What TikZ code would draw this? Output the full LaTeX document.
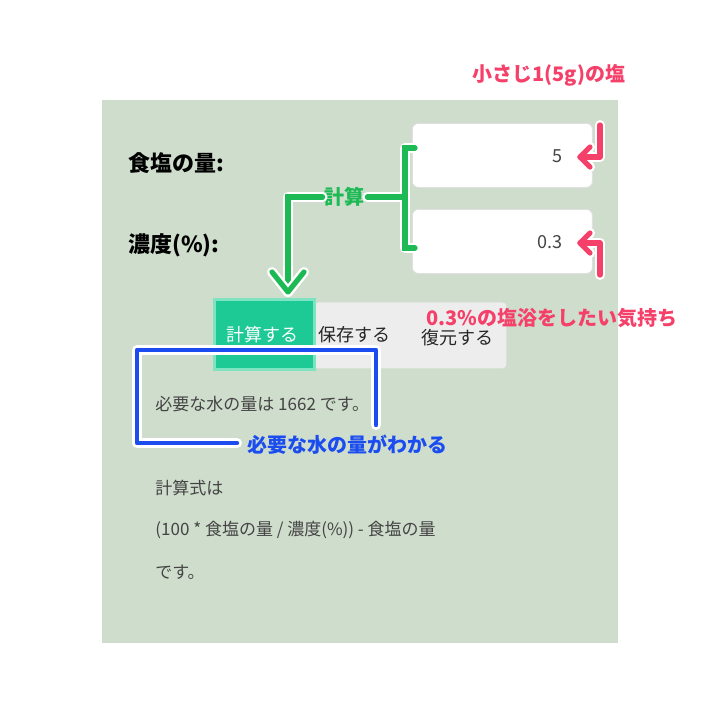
\documentclass[tikz,border=0pt]{standalone}
\usepackage{fontspec}
\setmainfont{Noto Sans CJK JP}
\usetikzlibrary{arrows.meta}
\definecolor{bgc}{HTML}{CFDDCC}
\definecolor{gbtn}{HTML}{1DC995}
\definecolor{gbord}{HTML}{7EE3C0}
\definecolor{ann}{HTML}{1DB954}
\definecolor{pinkc}{HTML}{F5406A}
\definecolor{bluec}{HTML}{1A4CF0}
\definecolor{txt}{HTML}{444444}
\begin{document}
\begin{tikzpicture}[x=0.5pt,y=-0.5pt,
 lbl/.style={font=\fontsize{11}{13}\selectfont\bfseries,text=black,anchor=west,inner sep=0},
 body/.style={font=\fontsize{8.5}{10}\selectfont,text=txt,anchor=west,inner sep=0},
 halo/.style={white,line width=5pt,line cap=round,line join=round},
 gline/.style={ann,line width=2.6pt,line cap=round},
 pline/.style={pinkc,line width=2.6pt,line cap=round},
 bline/.style={bluec,line width=2.2pt,line cap=round},
 annt/.style={font=\fontsize{10}{12}\selectfont\bfseries,inner sep=1pt}]
\useasboundingbox (0,0) rectangle (720,720);
\fill[white] (0,0) rectangle (720,720);
\fill[bgc] (102,100) rectangle (618,643);
\node[lbl] (l1) at (128,163) {食塩の量:};
\node[lbl] (l2) at (128,245) {濃度(\%):};
\node[draw=black!12,fill=white,rounded corners=3pt,minimum width=90pt,minimum height=32pt,anchor=north west,inner sep=0] (in1) at (412,123) {};
\node[draw=black!12,fill=white,rounded corners=3pt,minimum width=90pt,minimum height=32pt,anchor=north west,inner sep=0] (in2) at (412,209) {};
\node[body,anchor=east,font=\fontsize{9}{10}\selectfont] (v1) at (563,156) {5};
\node[body,anchor=east,font=\fontsize{9}{10}\selectfont] (v2) at (563,242) {0.3};
\node[fill=black!7,rounded corners=2pt,minimum width=96pt,minimum height=33pt,anchor=north west,inner sep=0] (gray) at (314,302) {};
\node[fill=gbtn,draw=gbord,line width=1.5pt,minimum width=50pt,minimum height=35pt,anchor=north west,inner sep=0] (b1) at (213,298) {};
\node[font=\fontsize{9}{10}\selectfont,text=white] (t1) at (263,335) {計算する};
\node[font=\fontsize{9}{10}\selectfont,text=black!85] (t2) at (355,335) {保存する};
\node[font=\fontsize{9}{10}\selectfont,text=black!85] (t3) at (458,338) {復元する};
\node[body] (r1) at (155,404) {必要な水の量は 1662 です。};
\node[body] (r2) at (155,488) {計算式は};
\node[body] (r3) at (155,530) {(100 * 食塩の量 / 濃度(\%)) - 食塩の量};
\node[body] (r4) at (155,572) {です。};
% green annotation
\node[annt,text=ann] (calc) at (345,197) {計算};
\coordinate (gt) at (415,148); \coordinate (gb) at (415,248);
\coordinate (gm) at (405,197); \coordinate (gc) at (288,197); \coordinate (ga) at (288,292);
\foreach \s in {halo,gline}{
 \draw[\s] (gt) -| (gm) |- (gb);
 \draw[\s] (gm) -- (calc.east);
 \draw[\s] (calc.west) -- (gc) -- (ga);}
\draw[halo] (272,272) -- (ga) -- (304,272);
\draw[gline,line join=round] (272,272) -- (ga) -- (304,272);
% pink annotations
\node[annt,text=pinkc] (salt) at (549,75) {小さじ1(5g)の塩};
\node[annt,text=pinkc,fill=white,fill opacity=0,text opacity=1] (feel) at (552,318) {0.3\%の塩浴をしたい気持ち};
\coordinate (p1a) at (600,125); \coordinate (p1b) at (600,157); \coordinate (p1c) at (580,157);
\coordinate (p2a) at (600,275); \coordinate (p2b) at (600,243); \coordinate (p2c) at (580,243);
\foreach \s in {halo,pline}{
 \draw[\s,line join=round] (p1a) -- (p1b) -- (p1c);
 \draw[\s,line join=round] (p2a) -- (p2b) -- (p2c);
 \draw[\s,line join=round] (590,147) -- (p1c) -- (590,167);
 \draw[\s,line join=round] (590,233) -- (p2c) -- (590,253);}
% blue annotation
\node[annt,text=bluec,anchor=west] (need) at (245,445) {必要な水の量がわかる};
\coordinate (ba) at (376,425); \coordinate (bb) at (376,350); \coordinate (bc) at (137,350);
\coordinate (bd) at (137,443); \coordinate (be) at (237,443);
\foreach \s in {halo,bline}{
 \draw[\s,line join=round] (ba) -- (bb) -- (bc) -- (bd) -- (be);}
\end{tikzpicture}
\end{document}
